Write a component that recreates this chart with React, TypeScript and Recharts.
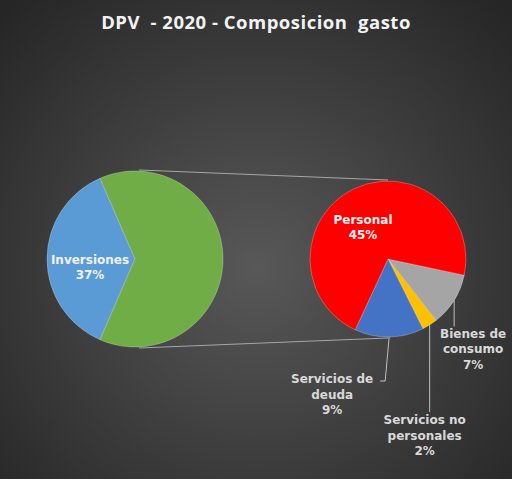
import React from "react";
import { PieChart, Pie, Cell } from "recharts";

// main pie: Inversiones vs. the rest (split out in the second pie)
const mainNames = ["Inversiones", "Resto"];
const mainValues = [37, 63];
const mainColors = ["#5B9BD5", "#70AD47"];

// second pie: breakdown of the 63%
const subNames = ["Bienes de consumo", "Servicios no personales", "Servicios de deuda", "Personal"];
const subValues = [7, 2, 9, 45];
const subColors = ["#A5A5A5", "#FFC000", "#4472C4", "#FF0000"];

const labelLines: Record<string, string[]> = {
  Inversiones: ["Inversiones"],
  Personal: ["Personal"],
  "Bienes de consumo": ["Bienes de", "consumo"],
  "Servicios no personales": ["Servicios no", "personales"],
  "Servicios de deuda": ["Servicios de", "deuda"],
};

const TITLE = "DPV  - 2020 - Composicion  gasto";

const W = 512;
const H = 479;
const LEFT = { cx: 135, cy: 259, r: 88 };
const RIGHT = { cx: 388, cy: 259, r: 78 };
const RADIAN = Math.PI / 180;
const LINE_H = 15.5;
const FONT = "'DejaVu Sans', Verdana, sans-serif";

// label placement: inside labels relative to pie centre, outside ones relative to slice edge
const labelLayout: Record<string, { inside: boolean; dx: number; dy: number; leader?: number[][] }> = {
  Inversiones: { inside: true, dx: -45, dy: 0 },
  Resto: { inside: true, dx: 0, dy: 0 },
  Personal: { inside: true, dx: -25, dy: -40 },
  "Bienes de consumo": { inside: false, dx: 19, dy: 33, leader: [[0, 0], [0, 26]] },
  "Servicios no personales": { inside: false, dx: -5, dy: 95, leader: [[0, 0], [0, 87]] },
  "Servicios de deuda": { inside: false, dx: -57, dy: 42, leader: [[0, 0], [-4, 44], [-9, 44]] },
};

const mainData = mainNames.map((name, i) => ({ name, value: mainValues[i] }));
const subData = subNames.map((name, i) => ({ name, value: subValues[i] }));

function renderLabel(props: any) {
  const { cx, cy, midAngle, outerRadius, name, value } = props;
  const layout = labelLayout[name];
  if (!layout || !labelLines[name]) return null;
  const lines = [...labelLines[name], `${value}%`];
  let x0: number;
  let y0: number;
  let leader: React.ReactNode = null;
  if (layout.inside) {
    x0 = cx + layout.dx;
    y0 = cy + layout.dy;
  } else {
    const ex = cx + outerRadius * Math.cos(-midAngle * RADIAN);
    const ey = cy + outerRadius * Math.sin(-midAngle * RADIAN);
    x0 = ex + layout.dx;
    y0 = ey + layout.dy;
    if (layout.leader) {
      leader = (
        <polyline
          points={layout.leader.map(([a, b]) => `${ex + a},${ey + b}`).join(" ")}
          fill="none"
          stroke="#bfbfbf"
          strokeWidth={1}
        />
      );
    }
  }
  const color = layout.inside ? "#f2f2f2" : "#d9d9d9";
  return (
    <g key={name}>
      {leader}
      <text x={x0} y={y0 + 4.5} textAnchor="middle" fill={color} fontFamily={FONT} fontWeight="bold" fontSize={12}>
        {lines.map((t, i) => (
          <tspan key={i} x={x0} dy={i === 0 ? 0 : LINE_H}>
            {t}
          </tspan>
        ))}
      </text>
    </g>
  );
}

export default function App() {
  return (
    <div
      style={{
        position: "absolute",
        left: 0,
        top: 0,
        width: W,
        height: H,
        overflow: "hidden",
        background: "radial-gradient(ellipse 70% 75% at 50% 56%, #585858 0%, #3a3a3a 60%, #262626 100%)",
      }}
    >
      <svg width={W} height={H} style={{ position: "absolute", left: 0, top: 0 }}>
        <text
          x={W / 2}
          y={29}
          textAnchor="middle"
          fill="#f2f2f2"
          fontFamily="'Open Sans', sans-serif"
          fontWeight="bold"
          fontSize={18.5}
          letterSpacing={0.5}
          style={{ whiteSpace: "pre" }}
        >
          {TITLE}
        </text>
        <line x1={LEFT.cx + 4} y1={LEFT.cy - LEFT.r - 1} x2={RIGHT.cx} y2={RIGHT.cy - RIGHT.r - 1} stroke="#a6a6a6" strokeWidth={1} />
        <line x1={LEFT.cx + 4} y1={LEFT.cy + LEFT.r + 1} x2={RIGHT.cx} y2={RIGHT.cy + RIGHT.r + 1} stroke="#a6a6a6" strokeWidth={1} />
      </svg>
      <PieChart width={W} height={H} margin={{ top: 0, right: 0, bottom: 0, left: 0 }}>
        <Pie
          data={mainData}
          dataKey="value"
          nameKey="name"
          cx={LEFT.cx}
          cy={LEFT.cy}
          outerRadius={LEFT.r}
          startAngle={113.4}
          endAngle={473.4}
          label={renderLabel}
          labelLine={false}
          isAnimationActive={false}
        >
          {mainData.map((_, i) => (
            <Cell key={i} fill={mainColors[i]} stroke="rgba(255,255,255,0.35)" strokeWidth={0.75} />
          ))}
        </Pie>
        <Pie
          data={subData}
          dataKey="value"
          nameKey="name"
          cx={RIGHT.cx}
          cy={RIGHT.cy}
          outerRadius={RIGHT.r}
          startAngle={-12}
          endAngle={-372}
          label={renderLabel}
          labelLine={false}
          isAnimationActive={false}
        >
          {subData.map((_, i) => (
            <Cell key={i} fill={subColors[i]} stroke="rgba(255,255,255,0.35)" strokeWidth={0.75} />
          ))}
        </Pie>
      </PieChart>
    </div>
  );
}
